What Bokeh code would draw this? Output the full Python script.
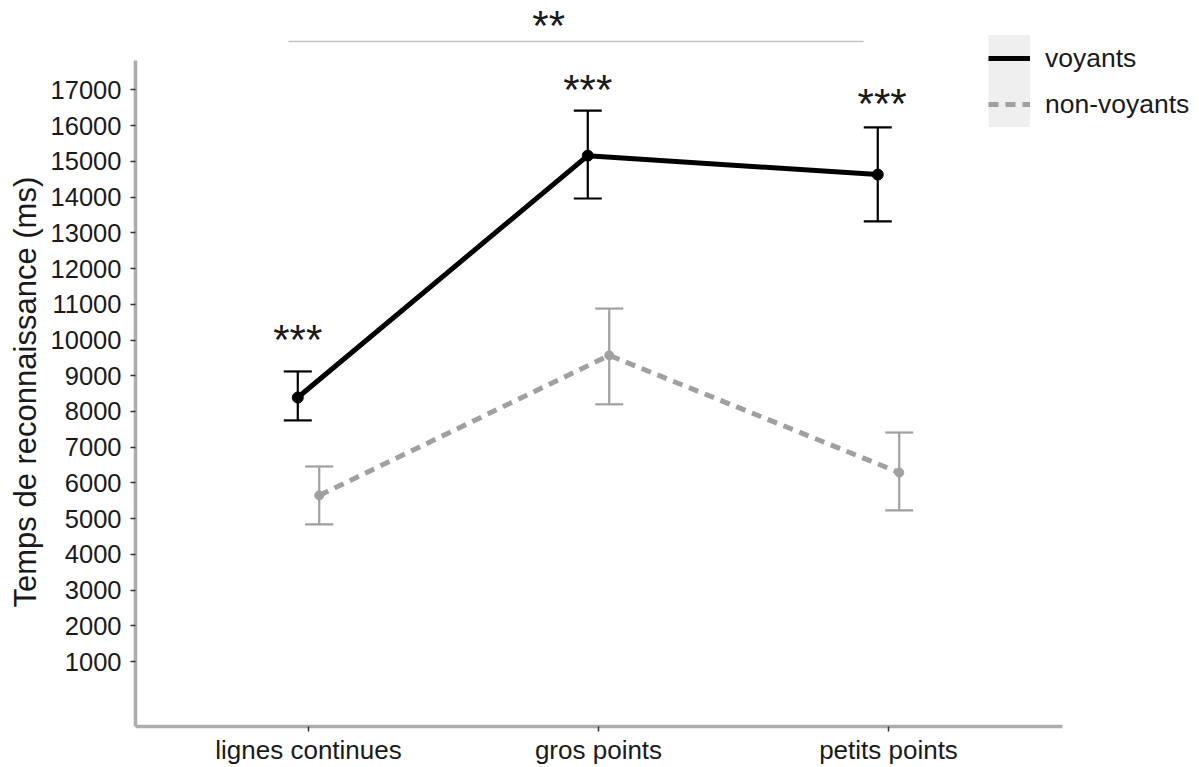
from bokeh.plotting import figure
from bokeh.models import (Range1d, FixedTicker, ColumnDataSource, Whisker, TeeHead,
                          Legend, LegendItem, Title)
from bokeh.core.properties import value
from bokeh.embed import file_html
from bokeh.resources import INLINE

# ---------------- data ----------------
categories = ["lignes continues", "gros points", "petits points"]
voyants_mean = [8390, 15160, 14630]
voyants_low = [7750, 13960, 13320]
voyants_high = [9120, 16420, 15950]
nonvoyants_mean = [5650, 9570, 6290]
nonvoyants_low = [4840, 8200, 5230]
nonvoyants_high = [6460, 10880, 7410]
y_ticks = [1000, 2000, 3000, 4000, 5000, 6000, 7000, 8000, 9000,
           10000, 11000, 12000, 13000, 14000, 15000, 16000, 17000]
series_labels = ["voyants", "non-voyants"]
sig_labels = ["***", "***", "***"]
bracket_label = "**"
y_title = "Temps de reconnaissance (ms)"

# ---------------- layout / style ----------------
FONT = "Liberation Sans"
TXT = "#1a1a1a"
GREY = "#a0a0a0"
AXIS_GREY = "#adadad"
DODGE = 0.037

idx = list(range(len(categories)))
xv = [i - DODGE for i in idx]
xn = [i + DODGE for i in idx]

p = figure(frame_width=1055, frame_height=716,
           x_range=Range1d(-0.5966, 3.0414), y_range=Range1d(-817, 19222),
           output_backend="svg", toolbar_location=None,
           min_border_left=135, min_border_top=10, min_border_right=0, min_border_bottom=0)
p.grid.visible = False
p.outline_line_color = None
p.background_fill_color = "white"
p.border_fill_color = "white"

src_v = ColumnDataSource(dict(x=xv, mean=voyants_mean, low=voyants_low, high=voyants_high))
src_n = ColumnDataSource(dict(x=xn, mean=nonvoyants_mean, low=nonvoyants_low, high=nonvoyants_high))

# legend key background (ggplot-like grey key box); a single point draws nothing in the plot
bg = p.line(x=[0], y=[-5000], line_color="#efefef", line_width=48)

# non-voyants
w_n = Whisker(source=src_n, base="x", lower="low", upper="high", dimension="height",
              line_color=GREY, line_width=2.2, level="glyph",
              lower_head=TeeHead(size=28, line_color=GREY, line_width=2.2),
              upper_head=TeeHead(size=28, line_color=GREY, line_width=2.2))
p.add_layout(w_n)
ln = p.line("x", "mean", source=src_n, line_color=GREY, line_width=5, line_dash="10 7")
p.scatter("x", "mean", source=src_n, size=9, fill_color=GREY, line_color=GREY)

# voyants
w_v = Whisker(source=src_v, base="x", lower="low", upper="high", dimension="height",
              line_color="black", line_width=2.2, level="glyph",
              lower_head=TeeHead(size=28, line_color="black", line_width=2.2),
              upper_head=TeeHead(size=28, line_color="black", line_width=2.2))
p.add_layout(w_v)
lv = p.line("x", "mean", source=src_v, line_color="black", line_width=5)
p.scatter("x", "mean", source=src_v, size=11, fill_color="black", line_color="black")

# significance annotations
sig_x = [xv[0], xv[1], xv[2] + 0.015]
sig_y = [10010, 17010, 16610]
p.text(x=sig_x, y=sig_y, text=sig_labels, text_align="center", text_baseline="alphabetic",
       text_font=value(FONT), text_font_size="42px", text_color=TXT)
bracket_x0, bracket_x1, bracket_y = -0.069, 1.914, 18354
p.segment(x0=[bracket_x0], y0=[bracket_y], x1=[bracket_x1], y1=[bracket_y],
          line_color="#c4c4c4", line_width=1.5)
p.text(x=[0.828], y=[18791], text=[bracket_label], text_align="center",
       text_baseline="alphabetic", text_font=value(FONT), text_font_size="42px", text_color=TXT)

# axes
xa = p.xaxis[0]
xa.ticker = FixedTicker(ticks=idx)
xa.major_label_overrides = {i: c for i, c in enumerate(categories)}
xa.bounds = (-0.5966, 2.6)
ya = p.yaxis[0]
ya.ticker = FixedTicker(ticks=y_ticks)
ya.bounds = (-817, 17822)
for ax in (xa, ya):
    ax.axis_line_color = AXIS_GREY
    ax.axis_line_width = 3.5
    ax.major_tick_line_color = "#333333"
    ax.major_tick_line_width = 1.5
    ax.major_tick_out = 5
    ax.major_tick_in = 0
    ax.minor_tick_line_color = None
    ax.major_label_text_font = FONT
    ax.major_label_text_color = TXT
xa.major_label_text_font_size = "26px"
ya.major_label_text_font_size = "25.5px"
xa.major_label_standoff = 3
ya.major_label_standoff = 9

# y title in the left panel
p.add_layout(Title(text=y_title, align="left", offset=119, standoff=10,
                   text_font=FONT, text_font_size="31px", text_font_style="normal",
                   text_color=TXT), "left")

legend = Legend(items=[LegendItem(label=series_labels[0], renderers=[bg, lv]),
                       LegendItem(label=series_labels[1], renderers=[bg, ln])],
                location=(853, 599), padding=0, margin=0, spacing=0,
                glyph_width=42, glyph_height=46, label_standoff=15,
                label_text_font=FONT, label_text_font_size="26.5px", label_text_color=TXT,
                background_fill_alpha=0, border_line_color=None)
p.add_layout(legend)

open("out.html", "w").write(file_html(p, INLINE))
